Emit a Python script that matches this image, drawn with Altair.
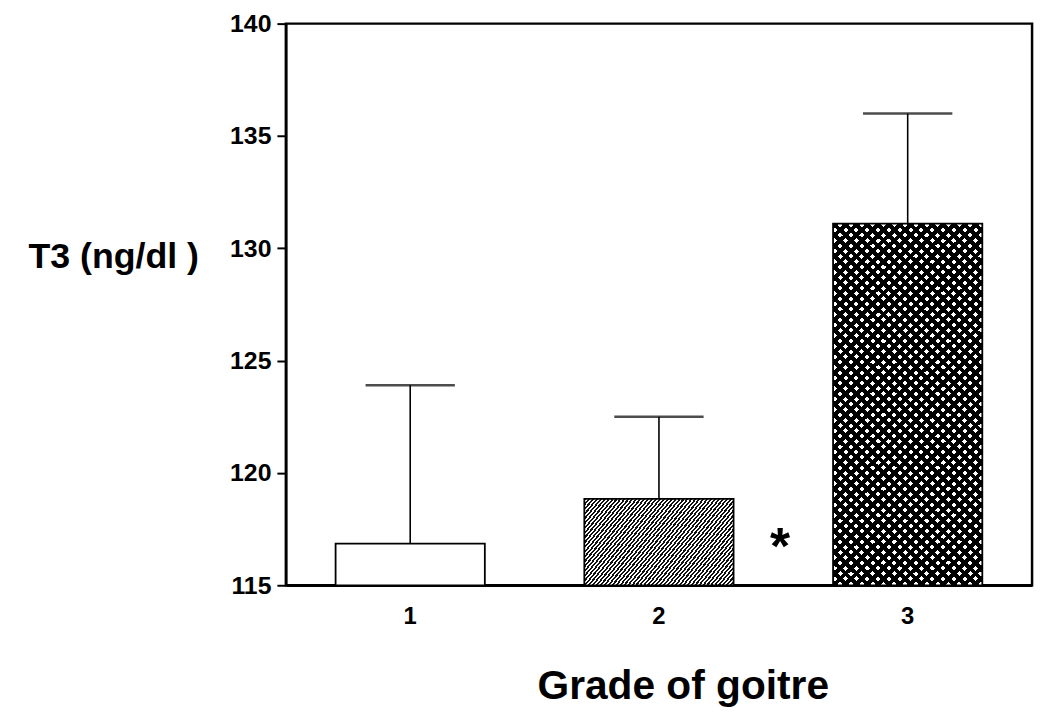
import altair as alt
import pandas as pd

grades = ["1", "2", "3"]
means = [116.85, 118.85, 131.1]
errors = [7.05, 3.65, 4.9]
y_ticks = [115, 120, 125, 130, 135, 140]
star_grade = ["2"]
star_value = [117.1]

df = pd.DataFrame({"grade": grades, "mean": means, "err": errors})
df["upper"] = df["mean"] + df["err"]
star_df = pd.DataFrame({"grade": star_grade, "value": star_value, "label": ["*"]})

FONT = "Liberation Sans"
NARROW = "Liberation Sans Narrow, Arial Narrow, Liberation Sans"


def stripes(x1, y1, x2, y2, n, dark, light, frac):
    stops = []
    for i in range(n):
        a = i / n
        b = (i + frac) / n
        c = (i + 1) / n
        stops += [
            {"offset": a, "color": dark},
            {"offset": b, "color": dark},
            {"offset": b, "color": light},
            {"offset": c, "color": light},
        ]
    return {"gradient": "linear", "x1": x1, "y1": y1, "x2": x2, "y2": y2, "stops": stops}


hatch = stripes(0, 0, 1.203, 0.577, 56, "#111111", "#ffffff", 0.52)
dotsA = stripes(0, 1, 0.486, -0.207, 48, "#000000", "rgba(0,0,0,0)", 0.53)
dotsB = stripes(0, 0, 0.486, 1.207, 48, "#000000", "rgba(0,0,0,0)", 0.53)

xenc = alt.X(
    "grade:N",
    sort=grades,
    scale=alt.Scale(paddingInner=0.4, paddingOuter=0.2),
    axis=alt.Axis(
        title="Grade of goitre",
        labelAngle=0,
        ticks=False,
        tickSize=0,
        labelPadding=20,
        labelFont=NARROW,
        labelFontSize=24,
        labelFontWeight="bold",
        labelColor="black",
        domainColor="black",
        domainWidth=2.5,
        titleFont=FONT,
        titleFontSize=41,
        titleFontWeight="bold",
        titleColor="black",
        titleAlign="center",
        titleBaseline="alphabetic",
        titleX=400,
        titleY=114,
    ),
)

yscale = alt.Scale(domain=[115, 140], zero=False, nice=False)
yenc = alt.Y(
    "mean:Q",
    scale=yscale,
    axis=alt.Axis(
        title="T3 (ng/dl )",
        values=y_ticks,
        grid=False,
        tickColor="black",
        tickSize=9,
        tickWidth=2,
        domainColor="black",
        domainWidth=2.5,
        labelPadding=6,
        labelFont=NARROW,
        labelFontSize=25,
        labelFontWeight="bold",
        labelColor="black",
        titleFont=FONT,
        titleFontSize=36,
        titleFontWeight="bold",
        titleColor="black",
        titleAngle=0,
        titleAlign="right",
        titleBaseline="alphabetic",
        titleX=-88,
        titleY=246,
    ),
)

base = alt.Chart(df)

err_rule = base.mark_rule(color="black", strokeWidth=1.6).encode(
    x=xenc, y=alt.Y("mean:Q", scale=yscale), y2="upper:Q"
)
err_cap = base.mark_tick(color="black", thickness=2.5, size=90, orient="horizontal").encode(
    x=xenc, y=alt.Y("upper:Q", scale=yscale)
)


def bar_layer(g, **kw):
    return base.transform_filter(alt.datum.grade == g).mark_bar(**kw).encode(
        x=xenc, y=yenc, y2=alt.datum(115)
    )


bar1 = bar_layer("1", fill="white", stroke="black", strokeWidth=1.8)
bar2 = bar_layer("2", fill=hatch, stroke="black", strokeWidth=1.8)
bar3 = bar_layer("3", fill="white", strokeWidth=0)
bar3a = bar_layer("3", fill=dotsA, strokeWidth=0)
bar3b = bar_layer("3", fill=dotsB, strokeWidth=0)
bar3o = bar_layer("3", fill="white", fillOpacity=0, stroke="black", strokeWidth=1.8)

star = alt.Chart(star_df).mark_text(
    font=FONT, fontSize=52, fontWeight="bold", color="black", dx=122, dy=26,
    baseline="alphabetic", align="center"
).encode(x=xenc, y=alt.Y("value:Q", scale=yscale), text="label:N")

chart = alt.layer(
    err_rule, err_cap, bar1, bar2, bar3, bar3a, bar3b, bar3o, star
).properties(
    width=752,
    height=566,
    padding={"left": 280, "top": 13, "right": 8, "bottom": 130},
    autosize=alt.AutoSizeParams(type="none"),
).configure_view(stroke="black", strokeWidth=2.5)

chart.save("out.html", embed_options={"renderer": "svg", "actions": False})
